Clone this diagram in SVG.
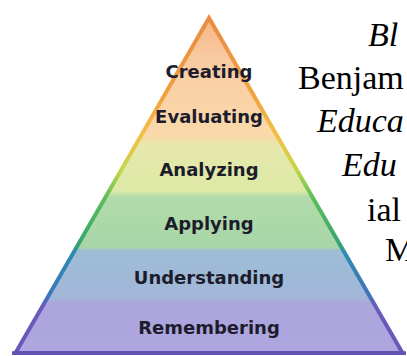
<svg xmlns="http://www.w3.org/2000/svg" width="407" height="356" viewBox="0 0 407 356">
<defs>
<linearGradient id="fillG" gradientUnits="userSpaceOnUse" x1="0" y1="14" x2="0" y2="354">
<stop offset="0" stop-color="#f6b47e"/>
<stop offset="0.12" stop-color="#f8c9a0"/>
<stop offset="0.232" stop-color="#f9d2a6"/>
<stop offset="0.36" stop-color="#fad9aa"/>
<stop offset="0.385" stop-color="#e6e8ac"/>
<stop offset="0.52" stop-color="#dde9a6"/>
<stop offset="0.538" stop-color="#b2dbaa"/>
<stop offset="0.685" stop-color="#a8d6a8"/>
<stop offset="0.697" stop-color="#9dbcd6"/>
<stop offset="0.835" stop-color="#a2b7d8"/>
<stop offset="0.85" stop-color="#aca6dc"/>
<stop offset="1" stop-color="#aea6e0"/>
</linearGradient>
<linearGradient id="edgeG" gradientUnits="userSpaceOnUse" x1="0" y1="14" x2="0" y2="354">
<stop offset="0" stop-color="#e98a40"/>
<stop offset="0.23" stop-color="#f0a040"/>
<stop offset="0.36" stop-color="#f2c048"/>
<stop offset="0.46" stop-color="#c4d648"/>
<stop offset="0.54" stop-color="#5cbe58"/>
<stop offset="0.68" stop-color="#34a474"/>
<stop offset="0.70" stop-color="#2c8cb0"/>
<stop offset="0.83" stop-color="#3e76b8"/>
<stop offset="0.86" stop-color="#6a5cba"/>
<stop offset="1" stop-color="#6656b6"/>
</linearGradient>
</defs>
<style>
.band { fill: url(#fillG); stroke: none; }
.lbl { font-family: "DejaVu Sans", Verdana, sans-serif; font-weight: bold; font-size: 18px; fill: #1c1c2c; text-anchor: middle; }
.edge { fill: url(#edgeG); stroke: none; }
.base { stroke: #6252b2; stroke-width: 3.5; }
.cap { font-family: "Liberation Serif", "Times New Roman", serif; font-size: 34px; fill: #000; }
.it { font-style: italic; }
</style>
<g id="outline">
<polygon class="edge" points="209,14 406,355 12,355"/>
<line class="base" x1="12" y1="353" x2="406" y2="353"/>
</g>
<g id="creating">
<polygon class="band" points="209,22 250,93 168,93"/>
<text class="lbl" x="209" y="78">Creating</text>
</g>
<g id="evaluating">
<polygon class="band" points="168,93 250,93 278.9,143 139.1,143"/>
<text class="lbl" x="209" y="123">Evaluating</text>
</g>
<g id="analyzing">
<polygon class="band" points="139.1,143 278.9,143 310.1,197 107.9,197"/>
<text class="lbl" x="209" y="176">Analyzing</text>
</g>
<g id="applying">
<polygon class="band" points="107.9,197 310.1,197 341.3,251 76.7,251"/>
<text class="lbl" x="209" y="230">Applying</text>
</g>
<g id="understanding">
<polygon class="band" points="76.7,251 341.3,251 371.3,303 46.7,303"/>
<text class="lbl" x="209" y="284">Understanding</text>
</g>
<g id="remembering">
<polygon class="band" points="46.7,303 371.3,303 399.1,351 18.9,351"/>
<text class="lbl" x="209" y="334">Remembering</text>
</g>
<g id="caption">
<text class="cap it" x="368" y="46">Bl</text>
<text class="cap" x="298" y="89">Benjam</text>
<text class="cap it" x="317" y="132">Educa</text>
<text class="cap it" x="342" y="176">Edu</text>
<text class="cap" x="367" y="221">ial</text>
<text class="cap" x="385" y="261">M</text>
</g>
</svg>
